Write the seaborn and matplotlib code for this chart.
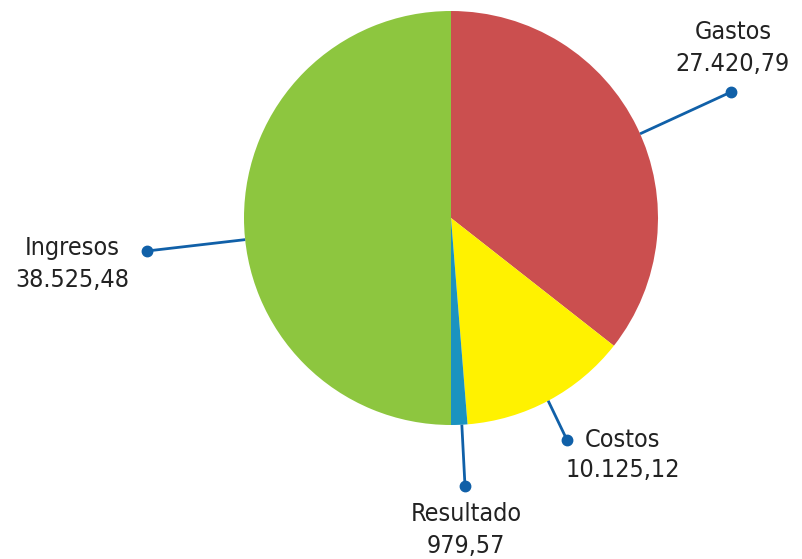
import numpy as np
import matplotlib
matplotlib.use("Agg")
import matplotlib.pyplot as plt
import seaborn as sns

labels = ["Gastos", "Costos", "Resultado", "Ingresos"]
values = [27420.79, 10125.12, 979.57, 38525.48]
value_text = ["27.420,79", "10.125,12", "979,57", "38.525,48"]
colors = ["#cb4f4f", "#fff200", "#1b93c0", "#8dc63f"]

sns.set_theme(style="white")
plt.rcParams["font.family"] = ["DejaVu Sans"]
plt.rcParams["font.stretch"] = "condensed"

W, H = 803, 559
fig = plt.figure(figsize=(W / 100, H / 100), dpi=100)
ax = fig.add_axes([0, 0, 1, 1])

cx, cy, r = 451, H - 218, 207
ax.pie(values, colors=colors, startangle=90, counterclock=False,
       center=(cx, cy), radius=r, frame=True,
       wedgeprops=dict(linewidth=0))
ax.set_xlim(0, W)
ax.set_ylim(0, H)
ax.axis("off")

# leader lines: angle on pie edge (deg), dot position (pixels from top-left)
leaders = [(24, (731, 92)), (-62, (567, 440)), (-87, (465, 486)), (186, (147, 251))]
line_color = "#1060a8"
for ang, dot in leaders:
    a = np.deg2rad(ang)
    ex, ey = cx + r * np.cos(a), cy + r * np.sin(a)
    dx, dy = dot[0], H - dot[1]
    ax.plot([ex, dx], [ey, dy], color=line_color, lw=2, solid_capstyle="butt")
    ax.plot(dx, dy, "o", color=line_color, markersize=7.5)

txt = dict(fontsize=18, color="#222222", linespacing=1.4, va="center")
ax.text(733, H - 48, f"{labels[0]}\n{value_text[0]}", ha="center", **txt)
ax.text(585, H - 440, labels[1], ha="left", **txt)
ax.text(566, H - 470, value_text[1], ha="left", **txt)
ax.text(466, H - 530, f"{labels[2]}\n{value_text[2]}", ha="center", **txt)
ax.text(72, H - 264, f"{labels[3]}\n{value_text[3]}", ha="center", **txt)

fig.savefig("out.png", dpi=100, facecolor="white")
